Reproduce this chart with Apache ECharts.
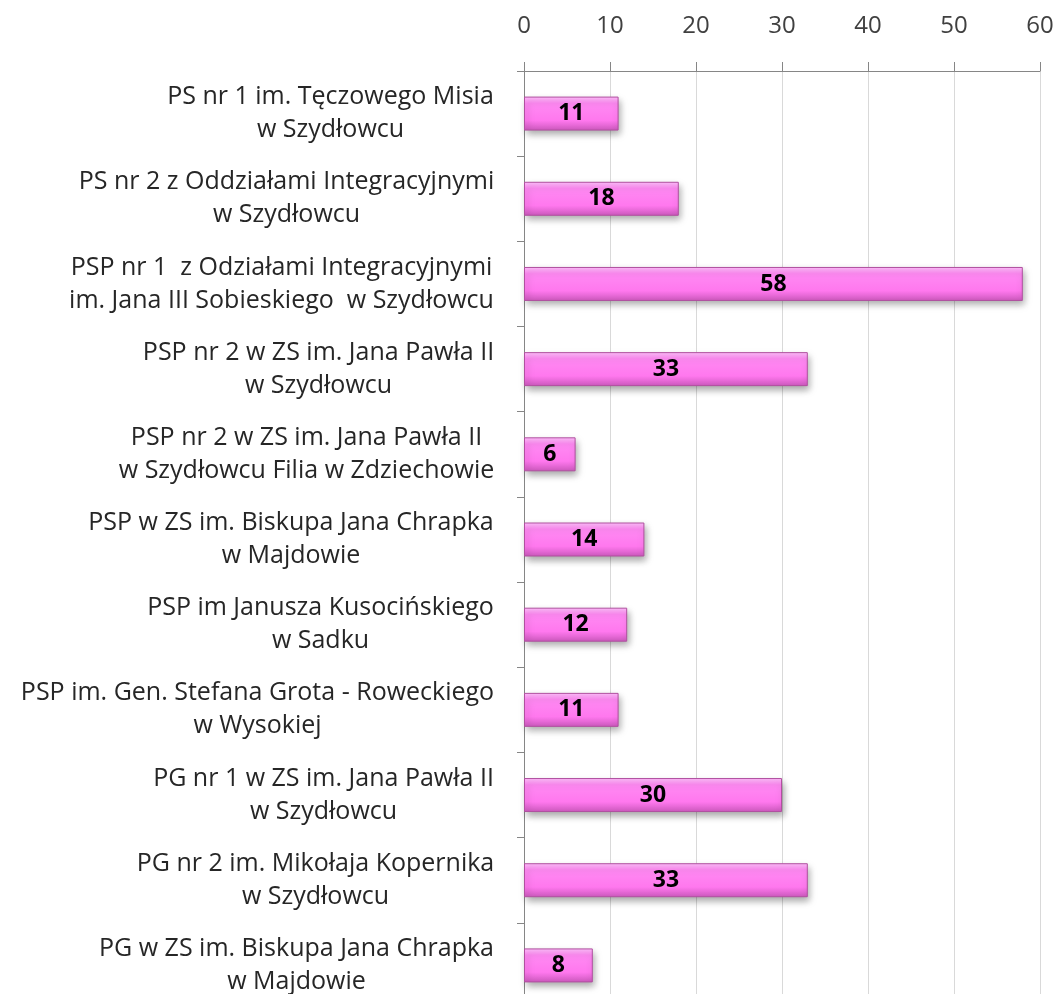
<!DOCTYPE html>
<html>
<head>
<meta charset="utf-8">
<script src="https://cdn.jsdelivr.net/npm/echarts@6/dist/echarts.min.js"></script>
<style>
  html, body { margin: 0; padding: 0; background: #fff; }
  #main { width: 1059px; height: 994px; }
</style>
</head>
<body>
<div id="main"></div>
<script>
// szkoły (od góry do dołu)
const schools = [
  "PS nr 1 im. Tęczowego Misia\nw Szydłowcu",
  "PS nr 2 z Oddziałami Integracyjnymi\nw Szydłowcu",
  "PSP nr 1  z Odziałami Integracyjnymi\nim. Jana III Sobieskiego  w Szydłowcu",
  "PSP nr 2 w ZS im. Jana Pawła II\nw Szydłowcu",
  "PSP nr 2 w ZS im. Jana Pawła II\nw Szydłowcu Filia w Zdziechowie",
  "PSP w ZS im. Biskupa Jana Chrapka\nw Majdowie",
  "PSP im Janusza Kusocińskiego\nw Sadku",
  "PSP im. Gen. Stefana Grota - Roweckiego\nw Wysokiej",
  "PG nr 1 w ZS im. Jana Pawła II\nw Szydłowcu",
  "PG nr 2 im. Mikołaja Kopernika\nw Szydłowcu",
  "PG w ZS im. Biskupa Jana Chrapka\nw Majdowie"
];
const counts = [11, 18, 58, 33, 6, 14, 12, 11, 30, 33, 8];
const xTicks = [0, 10, 20, 30, 40, 50, 60];

const chart = echarts.init(document.getElementById("main"));
const font = "Open Sans";
const labelSize = 25;

// linie etykiet wyśrodkowane, a cały blok dosunięty do osi:
// align center + prawy padding równy szerokości najdłuższej linii
const ctx = document.createElement("canvas").getContext("2d");
ctx.font = labelSize + "px '" + font + "'";
const yData = schools.map(function (name) {
  const w = Math.max.apply(null, name.split("\n").map(function (l) {
    return ctx.measureText(l).width;
  }));
  return { value: name, textStyle: { align: "center", padding: [0, Math.round(w), 0, 0] } };
});

const option = {
  animation: false,
  grid: { left: 524, right: 19, top: 71, height: 937, outerBoundsMode: "none", containLabel: false },
  xAxis: {
    type: "value",
    position: "top",
    min: xTicks[0],
    max: xTicks[xTicks.length - 1],
    interval: 10,
    axisLine: { show: true, lineStyle: { color: "#868686", width: 1 } },
    axisTick: { show: true, length: 9, lineStyle: { color: "#868686" } },
    axisLabel: { color: "#404040", fontFamily: font, fontSize: 24, margin: 33 },
    splitLine: { show: true, lineStyle: { color: "#d9d9d9", width: 1 } }
  },
  yAxis: {
    type: "category",
    inverse: true,
    data: yData,
    axisLine: { show: true, lineStyle: { color: "#868686" } },
    axisTick: { show: true, length: 7, lineStyle: { color: "#868686" } },
    axisLabel: {
      color: "#262626",
      fontFamily: font,
      fontSize: labelSize,
      lineHeight: 33,
      margin: 30
    }
  },
  series: [{
    type: "bar",
    data: counts,
    barWidth: 34,
    itemStyle: {
      color: new echarts.graphic.LinearGradient(0, 0, 0, 1, [
        { offset: 0, color: "#ffc0fc" },
        { offset: 0.2, color: "#ff8af3" },
        { offset: 0.7, color: "#ff78ee" },
        { offset: 1, color: "#cc58bd" }
      ]),
      borderColor: "#b0509f",
      borderWidth: 1,
      shadowColor: "rgba(0,0,0,0.35)",
      shadowBlur: 7,
      shadowOffsetX: 2,
      shadowOffsetY: 4
    },
    label: {
      show: true,
      position: "inside",
      color: "#000",
      fontFamily: font,
      fontWeight: "bold",
      fontSize: 23
    }
  }]
};

chart.setOption(option);
</script>
</body>
</html>
